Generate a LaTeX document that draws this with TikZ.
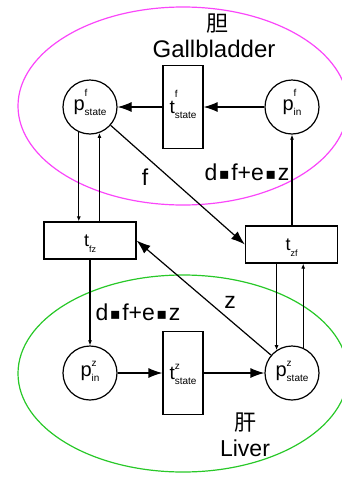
\documentclass[tikz,border=0pt]{standalone}
\usepackage{fontspec}
\setmainfont{Liberation Sans}
\newfontfamily\cjk{Noto Sans CJK SC}
\newfontfamily\dejavu{DejaVu Sans}
\usetikzlibrary{arrows.meta}
\definecolor{pinkc}{RGB}{250,70,250}
\definecolor{greenc}{RGB}{40,200,40}
\newcommand\mylbl[4]{#2\smash{\rlap{\raisebox{#1}{\fontsize{10}{10}\selectfont #3}}\raisebox{-5pt}{\fontsize{10}{10}\selectfont #4}}}
\newcommand\mydot{\hspace{1.5pt}{\dejavu\fontsize{16}{16}\selectfont\raisebox{1pt}{▪}}\hspace{1.5pt}}
\begin{document}
\begin{tikzpicture}[x=1pt,y=-1pt,
  place/.style={circle,draw,line width=1.2pt,minimum size=54pt,inner sep=0pt,font=\fontsize{20}{20}\selectfont},
  vtrans/.style={rectangle,draw,line width=1.2pt,inner sep=0pt,minimum width=40pt,minimum height=83pt,font=\fontsize{19}{19}\selectfont},
  htrans/.style={rectangle,draw,line width=1.2pt,inner sep=0pt,minimum width=92pt,minimum height=37pt,font=\fontsize{18}{18}\selectfont},
  big/.style={-{Latex[length=14pt,width=10pt]},line width=1.2pt},
  small/.style={-{Latex[length=5pt,width=4pt]},line width=1.2pt},
  lab/.style={font=\fontsize{23}{23}\selectfont,inner sep=0pt}]
\useasboundingbox (0,0) rectangle (341,477);
\draw[pinkc,line width=1.2pt] (183,106) ellipse [x radius=165,y radius=99];
\draw[greenc,line width=1.2pt] (183,373.5) ellipse [x radius=165,y radius=98.5];
\node[place] (pfs) at (90,107) {\mylbl{14pt}{p}{f}{state}};
\node[place] (pfi) at (292,107) {\mylbl{14pt}{p}{f}{in}};
\node[vtrans] (tfs) at (183,107) {\mylbl{16pt}{t}{f}{state}};
\node[htrans] (tfz) at (90,240.5) {t\smash{\raisebox{-6pt}{\fontsize{9}{9}\selectfont fz}}};
\node[htrans] (tzf) at (291.5,244.5) {t\smash{\raisebox{-6pt}{\fontsize{9}{9}\selectfont zf}}};
\node[place] (pzi) at (90,373) {\mylbl{10pt}{p}{z}{in}};
\node[vtrans] (tzs) at (183,373) {\mylbl{10pt}{t}{z}{state}};
\node[place] (pzs) at (292,373) {\mylbl{10pt}{p}{z}{state}};
\draw[big] (tfs.west) -- (pfs.east);
\draw[big] (pfi.west) -- (tfs.east);
\draw[big] (pzi.east) -- (tzs.west);
\draw[big] (tzs.east) -- (pzs.west);
\draw[small] (pfs.246) -- (pfs.246 |- tfz.north);
\draw[small] (pfs.290 |- tfz.north) -- (pfs.290);
\draw[big] (pfs) -- (tzf.west);
\draw[small] (tzf.north -| pfi) -- (pfi.south);
\draw[small] (tfz.south) -- (pzi.north);
\draw[big] (pzs) -- (tfz.east);
\draw[small] (pzs.124 |- tzf.south) -- (pzs.124);
\draw[small] (pzs.66) -- (pzs.66 |- tzf.south);
\node[lab] (lf) at (145,177) {f};
\node[lab] (ltop) at (247,172) {d\mydot f+e\mydot z};
\node[lab] (lbot) at (138,312) {d\mydot f+e\mydot z};
\node[lab] (lz) at (230,302) {z};
\node[font=\cjk\fontsize{22}{22}\selectfont,inner sep=0pt] (dan) at (217,24) {胆};
\node[font=\fontsize{24}{24}\selectfont,inner sep=0pt] (gb) at (214,49) {Gallbladder};
\node[font=\cjk\fontsize{22}{22}\selectfont,inner sep=0pt] (gan) at (245,423) {肝};
\node[font=\fontsize{23}{23}\selectfont,inner sep=0pt] (lv) at (245,448) {Liver};
\end{tikzpicture}
\end{document}
